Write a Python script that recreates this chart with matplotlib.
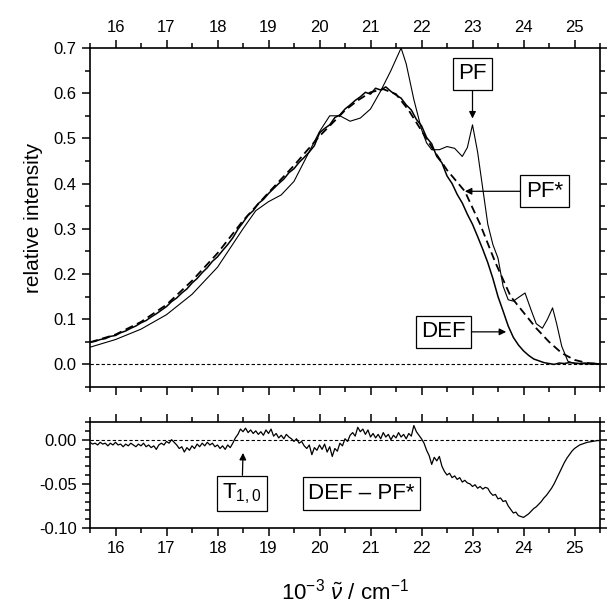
import numpy as np
import matplotlib
matplotlib.use("Agg")
import matplotlib.pyplot as plt
from matplotlib.ticker import MultipleLocator, FixedLocator, FormatStrFormatter

plt.rcParams['font.family'] = ['Liberation Sans', 'DejaVu Sans']
plt.rcParams['mathtext.fontset'] = 'custom'
plt.rcParams['mathtext.rm'] = 'Liberation Sans'
plt.rcParams['mathtext.it'] = 'Liberation Sans:italic'
plt.rcParams['axes.unicode_minus'] = False

# PF spectrum (thin solid), wavenumber in 10^3 cm^-1
pf_x = [15.5, 16.0, 16.5, 17.0, 17.5, 18.0, 18.5, 18.75, 19.0, 19.25, 19.5, 19.75,
        20.0, 20.2, 20.4, 20.6, 20.8, 21.0, 21.2, 21.4, 21.5, 21.6, 21.7, 21.85,
        22.0, 22.1, 22.2, 22.35, 22.5, 22.65, 22.8, 22.9, 23.0, 23.1, 23.2, 23.3,
        23.4, 23.5, 23.6, 23.7, 23.8, 23.9, 24.03, 24.15, 24.25, 24.37, 24.47,
        24.57, 24.65, 24.75, 24.87, 25.0, 25.5]
pf_y = [0.038, 0.055, 0.078, 0.11, 0.155, 0.215, 0.30, 0.34, 0.36, 0.375, 0.405, 0.46,
        0.515, 0.55, 0.55, 0.538, 0.545, 0.565, 0.605, 0.65, 0.675, 0.70, 0.665, 0.586,
        0.52, 0.49, 0.475, 0.475, 0.482, 0.478, 0.46, 0.48, 0.53, 0.47, 0.39, 0.31,
        0.265, 0.235, 0.173, 0.143, 0.14, 0.148, 0.158, 0.12, 0.09, 0.08, 0.1,
        0.125, 0.09, 0.04, 0.007, 0.002, 0.0]

# PF* fit (dashed)
pfs_x = [15.5, 16.0, 16.5, 17.0, 17.5, 18.0, 18.5, 19.0, 19.5, 20.0, 20.5, 20.75, 21.0,
         21.25, 21.5, 21.75, 22.0, 22.25, 22.5, 22.85, 23.15, 23.45, 23.75, 24.0,
         24.25, 24.5, 24.75, 25.0, 25.25, 25.5]
pfs_y = [0.049, 0.066, 0.094, 0.132, 0.185, 0.246, 0.318, 0.38, 0.44, 0.505, 0.562, 0.584, 0.602,
         0.609, 0.598, 0.562, 0.517, 0.472, 0.43, 0.383, 0.31, 0.225, 0.15, 0.115,
         0.08, 0.05, 0.025, 0.01, 0.003, 0.001]

# DEF spectrum (noisy solid), 0.1 steps from 15.5 to 25.5
def_y = [0.049, 0.051, 0.055, 0.057, 0.062, 0.064, 0.070, 0.074, 0.080, 0.085,
         0.092, 0.097, 0.105, 0.112, 0.120, 0.128, 0.139, 0.147, 0.158, 0.167,
         0.180, 0.190, 0.203, 0.214, 0.228, 0.238, 0.252, 0.265, 0.280, 0.299,
         0.314, 0.330, 0.340, 0.356, 0.365, 0.378, 0.389, 0.400, 0.410, 0.424,
         0.433, 0.447, 0.458, 0.470, 0.484, 0.512, 0.522, 0.530, 0.546, 0.552,
         0.565, 0.574, 0.584, 0.592, 0.602, 0.598, 0.611, 0.607, 0.614, 0.604,
         0.596, 0.589, 0.574, 0.563, 0.542, 0.528, 0.502, 0.488, 0.460, 0.446,
         0.417, 0.400, 0.376, 0.357, 0.332, 0.310, 0.283, 0.255, 0.225, 0.190,
         0.150, 0.118, 0.085, 0.060, 0.043, 0.030, 0.020, 0.012, 0.008, 0.004,
         0.002, 0.000, 0.003, 0.002, 0.004, 0.003, 0.002, 0.003, 0.002, 0.002,
         0.001]

# DEF - PF* difference, 0.05 steps from 15.5 to 25.5
diff_y = [-0.003, -0.005, -0.004, -0.006, -0.003, -0.005, -0.004, -0.007, -0.004, -0.006,
          -0.003, -0.006, -0.005, -0.008, -0.005, -0.007, -0.004, -0.006, -0.008, -0.005,
          -0.007, -0.004, -0.008, -0.006, -0.009, -0.007, -0.011, -0.006, -0.004, -0.006,
          -0.002, -0.004, 0.000, -0.003, -0.006, -0.010, -0.008, -0.014, -0.009, -0.012,
          -0.007, -0.010, -0.005, -0.008, -0.004, -0.007, -0.003, -0.006, -0.004, -0.008,
          -0.006, -0.010, -0.007, -0.011, -0.006, -0.009, -0.004, 0.002, 0.006, 0.012,
          0.009, 0.013, 0.008, 0.011, 0.007, 0.010, 0.006, 0.009, 0.005, 0.011,
          0.007, 0.012, 0.004, 0.007, 0.002, 0.005, 0.001, 0.006, 0.003, 0.001,
          -0.002, 0.001, -0.004, -0.002, -0.007, -0.010, -0.006, -0.017, -0.009, -0.012,
          -0.006, -0.011, -0.005, -0.014, -0.008, -0.019, -0.010, -0.013, -0.004, -0.007,
          0.001, -0.002, 0.005, 0.008, 0.004, 0.014, 0.009, 0.012, 0.006, 0.011,
          0.003, 0.007, 0.002, 0.006, 0.001, 0.008, 0.003, 0.006, 0.000, 0.005,
          0.002, 0.008, 0.003, 0.006, 0.001, 0.007, 0.004, 0.016, 0.009, 0.005,
          0.001, -0.004, -0.012, -0.018, -0.028, -0.020, -0.024, -0.019, -0.030, -0.036,
          -0.040, -0.038, -0.043, -0.041, -0.045, -0.043, -0.048, -0.046, -0.049, -0.050,
          -0.053, -0.051, -0.055, -0.053, -0.056, -0.054, -0.055, -0.060, -0.063, -0.062,
          -0.067, -0.066, -0.070, -0.069, -0.075, -0.079, -0.083, -0.082, -0.086, -0.087,
          -0.088, -0.086, -0.084, -0.081, -0.078, -0.076, -0.073, -0.070, -0.066, -0.063,
          -0.059, -0.055, -0.050, -0.044, -0.038, -0.032, -0.026, -0.021, -0.017, -0.013,
          -0.010, -0.008, -0.006, -0.005, -0.004, -0.003, -0.0025, -0.002, -0.0015, -0.001,
          -0.001]

def_x = np.linspace(15.5, 25.5, len(def_y))
diff_x = np.linspace(15.5, 25.5, len(diff_y))

fig = plt.figure(figsize=(6.07, 6.12), dpi=100)
ax1 = fig.add_axes([90 / 607, 1 - 387 / 612, 510 / 607, 339 / 612])
ax2 = fig.add_axes([90 / 607, 1 - 528 / 612, 510 / 607, 106 / 612])

ax1.plot(pf_x, pf_y, color='black', lw=0.8)
ax1.plot(def_x, def_y, color='black', lw=1.1)
ax1.plot(pfs_x, pfs_y, color='black', lw=1.3, ls=(0, (4.5, 2.5)))
ax1.axhline(0, color='black', lw=0.8, ls=(0, (3, 2)))

ax2.plot(diff_x, diff_y, color='black', lw=0.9)
ax2.axhline(0, color='black', lw=0.8, ls=(0, (3, 2)))

for ax in (ax1, ax2):
    ax.set_xlim(15.5, 25.5)
    ax.xaxis.set_major_locator(MultipleLocator(1))
    ax.xaxis.set_minor_locator(MultipleLocator(0.5))
    for s in ax.spines.values():
        s.set_linewidth(1.2)
    ax.tick_params(which='both', direction='out', top=True, right=True,
                   width=1.1, labelsize=12)
    ax.tick_params(which='major', length=6)
    ax.tick_params(which='minor', length=3.5)

ax1.set_ylim(-0.05, 0.7)
ax1.yaxis.set_major_locator(MultipleLocator(0.1))
ax1.yaxis.set_minor_locator(MultipleLocator(0.05))
ax1.yaxis.set_major_formatter(FormatStrFormatter('%.1f'))
ax1.tick_params(labeltop=True, labelbottom=False)
ax1.set_ylabel('relative intensity', fontsize=15, labelpad=8)

ax2.set_ylim(-0.1, 0.02)
ax2.yaxis.set_major_locator(FixedLocator([-0.1, -0.05, 0.0]))
ax2.yaxis.set_minor_locator(MultipleLocator(0.01))
ax2.yaxis.set_major_formatter(FormatStrFormatter('%.2f'))
ax2.set_xlabel(r'$10^{-3}$ $\tilde{\nu}$ / cm$^{-1}$', fontsize=16, labelpad=16)

box = dict(boxstyle='square,pad=0.25', fc='white', ec='black', lw=0.9)
arr = dict(arrowstyle='-|>', color='black', lw=0.9, mutation_scale=10, shrinkA=0, shrinkB=0)

ax1.annotate('PF', xy=(23.0, 0.544), xytext=(23.0, 0.643), fontsize=16,
             ha='center', va='center', bbox=box, arrowprops=arr)
ax1.annotate('PF*', xy=(22.85, 0.383), xytext=(24.41, 0.383), fontsize=16,
             ha='center', va='center', bbox=box, arrowprops=arr)
ax1.annotate('DEF', xy=(23.66, 0.072), xytext=(22.43, 0.072), fontsize=16,
             ha='center', va='center', bbox=box, arrowprops=arr)
ax2.annotate('T$_{1,0}$', xy=(18.5, -0.015), xytext=(18.48, -0.061), fontsize=16,
             ha='center', va='center', bbox=box, arrowprops=arr)
ax2.text(20.82, -0.061, 'DEF \u2013 PF*', fontsize=16, ha='center', va='center', bbox=box)

fig.savefig('out.png', dpi=100)
